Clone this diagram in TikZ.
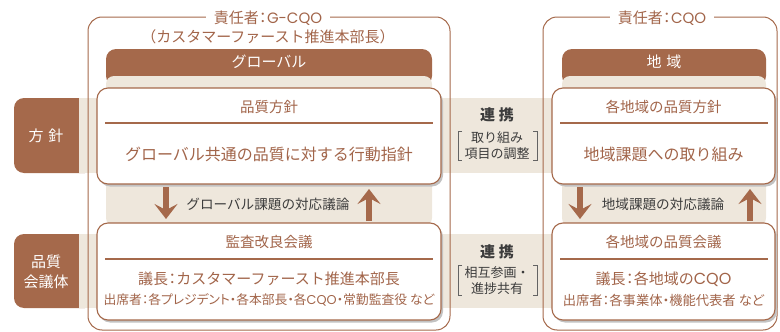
\documentclass[tikz,border=0pt]{standalone}
\usepackage{fontspec}
\setmainfont{Noto Sans CJK JP}
\newfontfamily\qfont{Poppins}
\usetikzlibrary{arrows.meta,positioning,shadows}
\definecolor{brownmain}{HTML}{A5694B}
\definecolor{beige}{HTML}{EEE7DC}
\definecolor{boxtext}{HTML}{A2654A}
\definecolor{darktext}{HTML}{3C3C3C}
\definecolor{shade}{HTML}{C2C2C2}
\newcommand{\jcol}{\makebox[0.55em]{：}}
\newcommand{\cqo}{{\qfont CQO}}

\tikzset{
  panel/.style={draw=brownmain,line width=1.1pt,fill=white,rounded corners=11pt,
    drop shadow={shadow xshift=2pt,shadow yshift=-2.5pt,fill=shade,opacity=1}},
  frameline/.style={draw=brownmain,line width=1pt,rounded corners=14pt},
  frametitle/.style={fill=white,text=boxtext,font=\fontsize{15}{17}\selectfont,inner xsep=8pt,inner ysep=1pt},
  headtext/.style={text=white,font=\fontsize{15}{17}\selectfont},
  boxtitle/.style={text=boxtext,font=\fontsize{14.5}{16}\selectfont},
  boxbody/.style={text=boxtext,font=\fontsize{16}{18}\selectfont},
  chairtext/.style={text=boxtext,font=\fontsize{15}{17}\selectfont},
  membertext/.style={text=boxtext,font=\fontsize{12.8}{15}\selectfont\addfontfeatures{RawFeature=+palt}},
  divider/.style={brownmain,line width=1.3pt},
  bigarrow/.style={brownmain,line width=6pt,-{Stealth[length=15pt,width=23pt,inset=6pt]}},
  striptext/.style={text=darktext,font=\fontsize{13.6}{15}\selectfont},
  linkhead/.style={text=darktext,font=\bfseries\fontsize{15}{17}\selectfont},
  linktext/.style={text=darktext,font=\fontsize{13}{16}\selectfont,align=center},
  bracket/.style={darktext!80,line width=0.7pt},
}

\begin{document}
\begin{tikzpicture}[x=1pt,y=-1pt]
  \useasboundingbox (0,0) rectangle (780,332);
  % row labels and bands
  \fill[brownmain,rounded corners=10pt] (14,98) rectangle (95,173);
  \fill[brownmain,rounded corners=10pt] (14,234) rectangle (95,308);
  \fill[beige] (79,98) rectangle (778,173);
  \fill[beige] (79,234) rectangle (778,308);
  \node[headtext] (rowpolicy) at (46,136) {方\hspace{5pt}針};
  \node[headtext,align=center,font=\fontsize{15}{20}\selectfont] (rowmeeting) at (46,272) {品質\\会議体};

  % column headers and beige columns
  \fill[brownmain,rounded corners=10pt] (106,49) rectangle (432,86);
  \fill[brownmain,rounded corners=10pt] (562,49) rectangle (766,86);
  \fill[beige,rounded corners=8pt] (106,76) rectangle (432,226);
  \fill[beige,rounded corners=8pt] (562,76) rectangle (766,226);
  \node[headtext] (ghead) at (269,62) {グローバル};
  \node[headtext] (rhead) at (664,62) {地\hspace{5pt}域};

  % frames
  \draw[frameline] (88,17) rectangle (450,330);
  \draw[frameline] (543,17) rectangle (777,330);
  \node[frametitle] (gowner) at (268,18) {責任者\jcol{\qfont G-CQO}};
  \node[text=boxtext,font=\fontsize{15}{17}\selectfont] (gownersub) at (268,37) {（カスタマーファースト推進本部長）};
  \node[frametitle] (rowner) at (662,18) {責任者\jcol\cqo};

  % boxes
  \node[panel,minimum width=344pt,minimum height=96pt] (gpolicy) at (269,136) {};
  \node[panel,minimum width=344pt,minimum height=97pt] (gmeeting) at (269,271.5) {};
  \node[panel,minimum width=223pt,minimum height=96pt] (rpolicy) at (663.5,136) {};
  \node[panel,minimum width=223pt,minimum height=97pt] (rmeeting) at (663.5,271.5) {};

  \draw[divider] (105,123) -- (433,123);
  \draw[divider] (105,259) -- (433,259);
  \draw[divider] (560,123) -- (768,123);
  \draw[divider] (560,259) -- (768,259);

  \node[boxtitle] (gpolicyT) at (269,107) {品質方針};
  \node[boxbody] (gpolicyB) at (269,154) {グローバル共通の品質に対する行動指針};
  \node[boxtitle] (gmeetingT) at (269,242) {監査改良会議};
  \node[chairtext] (gchair) at (269,279) {議長\jcol カスタマーファースト推進本部長};
  \node[membertext] (gmembers) at (269,300) {出席者：各プレジデント・各本部長・各\cqo・常勤監査役 など};

  \node[boxtitle] (rpolicyT) at (663.5,107) {各地域の品質方針};
  \node[boxbody] (rpolicyB) at (663.5,154) {地域課題への取り組み};
  \node[boxtitle] (rmeetingT) at (663.5,242) {各地域の品質会議};
  \node[chairtext] (rchair) at (663.5,279) {議長\jcol 各地域の{\fontsize{16}{17}\selectfont\cqo}};
  \node[membertext,font=\fontsize{13.3}{15}\selectfont\addfontfeatures{RawFeature=+palt}] (rmembers) at (663.5,300) {出席者：各事業体・機能代表者 など};

  % discussion strips
  \node[striptext] (gstrip) at (268,204) {グローバル課題の対応議論};
  \node[striptext] (rstrip) at (663,204) {地域課題の対応議論};
  \foreach \x/\tag in {166/gdown,580/rdown} {
    \coordinate (\tag A) at (\x,187);
    \coordinate (\tag B) at (\x,219);
    \draw[bigarrow] (\tag A) -- (\tag B);
  }
  \foreach \x/\tag in {369/gup,750/rup} {
    \coordinate (\tag A) at (\x,221);
    \coordinate (\tag B) at (\x,189);
    \draw[bigarrow] (\tag A) -- (\tag B);
  }

  % links between columns
  \node[linkhead] (linkpolicy) at (497,115) {連\hspace{4pt}携};
  \node[linktext] (linkpolicyT) at (497,146) {取り組み\\項目の調整};
  \node[linkhead] (linkmeeting) at (497,252) {連\hspace{4pt}携};
  \node[linktext] (linkmeetingT) at (497,281) {相互参画・\\進捗共有};
  \foreach \ya/\yb in {131/160,265/295} {
    \draw[bracket] (462,\ya) -- (458,\ya) -- (458,\yb) -- (462,\yb);
    \draw[bracket] (533,\ya) -- (537,\ya) -- (537,\yb) -- (533,\yb);
  }
\end{tikzpicture}
\end{document}
